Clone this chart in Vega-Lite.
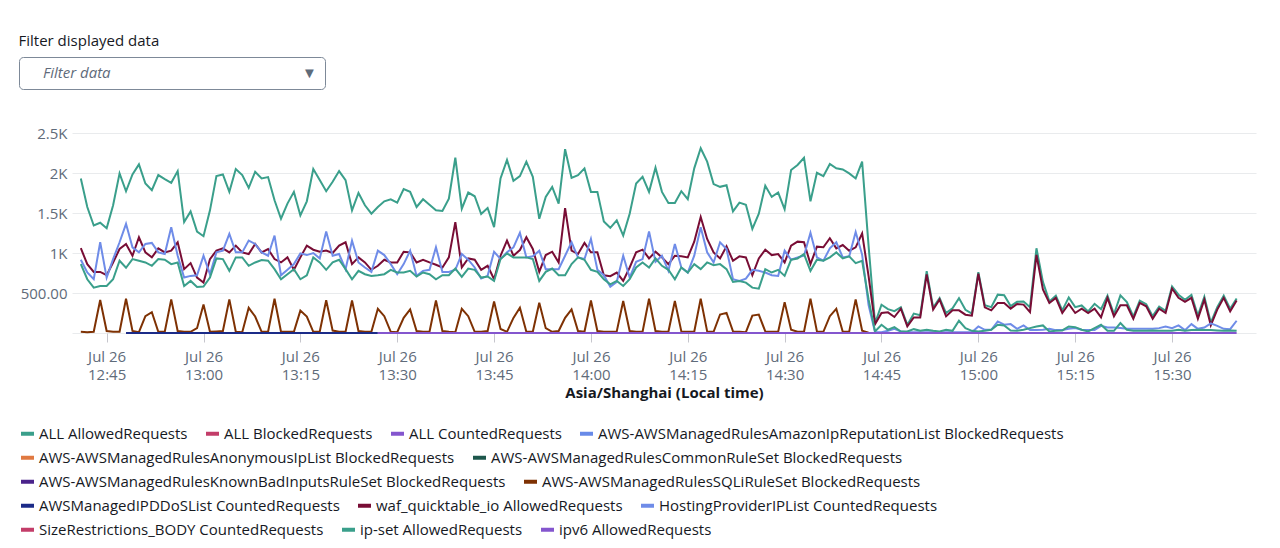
{
"$schema": "https://vega.github.io/schema/vega-lite/v6.json",
"background": "white",
"autosize": "none",
"padding": {"left": 72, "top": 133, "right": 24, "bottom": 215},
"width": 1184,
"height": 200,
"title": {"text": "Filter displayed data", "anchor": "start", "fontSize": 15, "fontWeight": "normal", "color": "#16191f", "offset": 8},
"config": {
  "font": "Open Sans",
  "view": {"stroke": null},
  "legend": {"direction": "horizontal", "symbolType": "stroke", "symbolStrokeWidth": 4, "symbolSize": 169, "labelFont": "Open Sans", "labelFontSize": 15, "labelColor": "#16191f", "labelLimit": 900, "columnPadding": 10, "labelOffset": 3}
},
"data": {"values": [
{"t":"2024-07-26T12:41Z","a":1932,"w":1060,"h":916,"i":861,"s":15},
{"t":"2024-07-26T12:42Z","a":1575,"w":860,"h":756,"i":672,"s":10},
{"t":"2024-07-26T12:43Z","a":1344,"w":764,"h":672,"i":567,"s":15},
{"t":"2024-07-26T12:44Z","a":1378,"w":764,"h":1134,"i":588,"s":412},
{"t":"2024-07-26T12:45Z","a":1310,"w":722,"h":693,"i":588,"s":25},
{"t":"2024-07-26T12:46Z","a":1596,"w":882,"h":924,"i":672,"s":15},
{"t":"2024-07-26T12:47Z","a":1995,"w":1050,"h":1134,"i":903,"s":15},
{"t":"2024-07-26T12:48Z","a":1772,"w":1113,"h":1365,"i":815,"s":428,"d":0},
{"t":"2024-07-26T12:49Z","a":1982,"w":966,"h":1071,"i":924,"s":25,"d":0},
{"t":"2024-07-26T12:50Z","a":2108,"w":1197,"h":1008,"i":903,"s":10,"d":0},
{"t":"2024-07-26T12:51Z","a":1869,"w":1008,"h":1113,"i":882,"s":210,"d":0},
{"t":"2024-07-26T12:52Z","a":1785,"w":945,"h":1126,"i":840,"s":260,"d":0},
{"t":"2024-07-26T12:53Z","a":1974,"w":1058,"h":1008,"i":924,"s":15,"d":0},
{"t":"2024-07-26T12:54Z","a":1924,"w":1008,"h":987,"i":916,"s":15,"d":0},
{"t":"2024-07-26T12:55Z","a":1877,"w":1029,"h":1323,"i":861,"s":420,"d":0},
{"t":"2024-07-26T12:56Z","a":2024,"w":1134,"h":966,"i":882,"s":25,"d":0},
{"t":"2024-07-26T12:57Z","a":1386,"w":798,"h":693,"i":588,"s":15,"d":0},
{"t":"2024-07-26T12:58Z","a":1520,"w":874,"h":714,"i":651,"s":15,"d":0},
{"t":"2024-07-26T12:59Z","a":1268,"w":693,"h":722,"i":575,"s":60,"d":0},
{"t":"2024-07-26T13:00Z","a":1210,"w":630,"h":966,"i":580,"s":357,"d":0},
{"t":"2024-07-26T13:01Z","a":1533,"w":924,"h":735,"i":693,"s":15,"d":0},
{"t":"2024-07-26T13:02Z","a":1961,"w":1029,"h":1008,"i":932,"s":20,"d":0},
{"t":"2024-07-26T13:03Z","a":1982,"w":1058,"h":1029,"i":924,"s":25,"d":0},
{"t":"2024-07-26T13:04Z","a":1764,"w":1008,"h":1239,"i":777,"s":420,"d":0},
{"t":"2024-07-26T13:05Z","a":2050,"w":1092,"h":1008,"i":945,"s":15,"d":0},
{"t":"2024-07-26T13:06Z","a":1974,"w":1008,"h":1008,"i":945,"s":10,"d":0},
{"t":"2024-07-26T13:07Z","a":1814,"w":987,"h":1155,"i":840,"s":315,"d":0},
{"t":"2024-07-26T13:08Z","a":2016,"w":1113,"h":1113,"i":882,"s":206,"d":0},
{"t":"2024-07-26T13:09Z","a":1932,"w":1008,"h":1008,"i":911,"s":15,"d":0},
{"t":"2024-07-26T13:10Z","a":1949,"w":1050,"h":966,"i":903,"s":15,"d":0},
{"t":"2024-07-26T13:11Z","a":1659,"w":924,"h":1218,"i":798,"s":428,"d":0},
{"t":"2024-07-26T13:12Z","a":1428,"w":882,"h":722,"i":672,"s":15,"d":0},
{"t":"2024-07-26T13:13Z","a":1617,"w":945,"h":790,"i":735,"s":15,"d":0},
{"t":"2024-07-26T13:14Z","a":1764,"w":790,"h":861,"i":798,"s":15,"d":0},
{"t":"2024-07-26T13:15Z","a":1470,"w":945,"h":995,"i":672,"s":280,"d":0},
{"t":"2024-07-26T13:16Z","a":1646,"w":1092,"h":974,"i":722,"s":206,"d":0},
{"t":"2024-07-26T13:17Z","a":2050,"w":1041,"h":1000,"i":945,"s":15,"d":0},
{"t":"2024-07-26T13:18Z","a":1911,"w":1016,"h":932,"i":882,"s":15,"d":0},
{"t":"2024-07-26T13:19Z","a":1772,"w":1030,"h":1270,"i":790,"s":410,"d":0},
{"t":"2024-07-26T13:20Z","a":1890,"w":1000,"h":966,"i":882,"s":30,"d":0},
{"t":"2024-07-26T13:21Z","a":2024,"w":1092,"h":987,"i":916,"s":15,"d":0},
{"t":"2024-07-26T13:22Z","a":1911,"w":1134,"h":798,"i":798,"s":15,"d":0},
{"t":"2024-07-26T13:23Z","a":1533,"w":861,"h":1155,"i":672,"s":407,"d":0},
{"t":"2024-07-26T13:24Z","a":1751,"w":945,"h":882,"i":777,"s":25,"d":0},
{"t":"2024-07-26T13:25Z","a":1596,"w":882,"h":819,"i":735,"s":15,"d":0},
{"t":"2024-07-26T13:26Z","a":1491,"w":790,"h":764,"i":714,"s":15,"d":0},
{"t":"2024-07-26T13:27Z","a":1575,"w":840,"h":1029,"i":722,"s":302,"d":0,"v":0},
{"t":"2024-07-26T13:28Z","a":1646,"w":916,"h":974,"i":735,"s":210,"v":0},
{"t":"2024-07-26T13:29Z","a":1672,"w":882,"h":861,"i":790,"s":15,"v":0},
{"t":"2024-07-26T13:30Z","a":1630,"w":882,"h":735,"i":756,"s":10,"v":0},
{"t":"2024-07-26T13:31Z","a":1798,"w":1016,"h":861,"i":756,"s":189,"v":0},
{"t":"2024-07-26T13:32Z","a":1764,"w":1008,"h":1029,"i":777,"s":294,"v":0},
{"t":"2024-07-26T13:33Z","a":1575,"w":882,"h":714,"i":706,"s":25,"v":0},
{"t":"2024-07-26T13:34Z","a":1672,"w":916,"h":777,"i":756,"s":15,"v":0},
{"t":"2024-07-26T13:35Z","a":1604,"w":882,"h":790,"i":735,"s":15,"v":0},
{"t":"2024-07-26T13:36Z","a":1533,"w":853,"h":1071,"i":672,"s":407,"v":0},
{"t":"2024-07-26T13:37Z","a":1525,"w":819,"h":764,"i":722,"s":25,"v":0},
{"t":"2024-07-26T13:38Z","a":1680,"w":945,"h":764,"i":722,"s":15,"v":0},
{"t":"2024-07-26T13:39Z","a":2191,"w":1386,"h":790,"i":806,"s":10,"v":0},
{"t":"2024-07-26T13:40Z","a":1554,"w":819,"h":987,"i":701,"s":302,"v":0},
{"t":"2024-07-26T13:41Z","a":1756,"w":932,"h":916,"i":806,"s":210,"v":0},
{"t":"2024-07-26T13:42Z","a":1709,"w":916,"h":819,"i":790,"s":15,"v":0},
{"t":"2024-07-26T13:43Z","a":1487,"w":790,"h":680,"i":693,"s":15,"v":0},
{"t":"2024-07-26T13:44Z","a":1562,"w":840,"h":714,"i":706,"s":25,"v":0},
{"t":"2024-07-26T13:45Z","a":1323,"w":672,"h":1016,"i":651,"s":395,"v":0},
{"t":"2024-07-26T13:46Z","a":1932,"w":966,"h":924,"i":924,"s":50,"v":0},
{"t":"2024-07-26T13:47Z","a":2163,"w":1155,"h":1008,"i":995,"s":15,"v":0},
{"t":"2024-07-26T13:48Z","a":1902,"w":966,"h":1071,"i":945,"s":189,"v":0},
{"t":"2024-07-26T13:49Z","a":1961,"w":1037,"h":1252,"i":945,"s":315,"v":0},
{"t":"2024-07-26T13:50Z","a":2142,"w":1197,"h":945,"i":945,"s":15,"v":0},
{"t":"2024-07-26T13:51Z","a":1953,"w":1050,"h":958,"i":924,"s":15,"v":0},
{"t":"2024-07-26T13:52Z","a":1428,"w":764,"h":1029,"i":651,"s":378,"v":0},
{"t":"2024-07-26T13:53Z","a":1701,"w":974,"h":798,"i":764,"s":60,"v":0},
{"t":"2024-07-26T13:54Z","a":1827,"w":1016,"h":798,"i":806,"s":15,"v":0},
{"t":"2024-07-26T13:55Z","a":1617,"w":882,"h":798,"i":722,"s":25,"v":0},
{"t":"2024-07-26T13:56Z","a":2297,"w":1562,"h":966,"i":722,"s":189,"v":0},
{"t":"2024-07-26T13:57Z","a":1940,"w":1029,"h":1134,"i":861,"s":294,"v":0},
{"t":"2024-07-26T13:58Z","a":1974,"w":987,"h":945,"i":945,"s":25,"v":0},
{"t":"2024-07-26T13:59Z","a":2058,"w":1126,"h":924,"i":916,"s":15,"v":0},
{"t":"2024-07-26T14:00Z","a":1764,"w":1008,"h":1176,"i":790,"s":407,"v":0},
{"t":"2024-07-26T14:01Z","a":1764,"w":1008,"h":790,"i":764,"s":25,"v":0},
{"t":"2024-07-26T14:02Z","a":1394,"w":722,"h":722,"i":672,"s":15,"v":0},
{"t":"2024-07-26T14:03Z","a":1315,"w":710,"h":578,"i":609,"s":15,"v":0},
{"t":"2024-07-26T14:04Z","a":1407,"w":756,"h":640,"i":651,"s":20,"v":0},
{"t":"2024-07-26T14:05Z","a":1218,"w":651,"h":966,"i":588,"s":399,"v":0},
{"t":"2024-07-26T14:06Z","a":1491,"w":819,"h":693,"i":672,"s":25,"v":0},
{"t":"2024-07-26T14:07Z","a":1869,"w":1008,"h":890,"i":819,"s":15,"v":0},
{"t":"2024-07-26T14:08Z","a":1953,"w":1042,"h":924,"i":882,"s":15,"v":0},
{"t":"2024-07-26T14:09Z","a":1764,"w":932,"h":1268,"i":819,"s":428,"v":0},
{"t":"2024-07-26T14:10Z","a":2066,"w":1016,"h":890,"i":932,"s":25,"v":0},
{"t":"2024-07-26T14:11Z","a":1764,"w":945,"h":966,"i":840,"s":15,"v":0},
{"t":"2024-07-26T14:12Z","a":1625,"w":861,"h":777,"i":790,"s":15,"v":0},
{"t":"2024-07-26T14:13Z","a":1625,"w":966,"h":1113,"i":672,"s":399,"v":0},
{"t":"2024-07-26T14:14Z","a":1772,"w":958,"h":819,"i":819,"s":20,"v":0},
{"t":"2024-07-26T14:15Z","a":1672,"w":945,"h":756,"i":756,"s":15,"v":0},
{"t":"2024-07-26T14:16Z","a":2058,"w":1142,"h":966,"i":861,"s":15,"v":0},
{"t":"2024-07-26T14:17Z","a":2310,"w":1449,"h":1323,"i":798,"s":428,"v":0},
{"t":"2024-07-26T14:18Z","a":2142,"w":1176,"h":1008,"i":882,"s":20,"v":0},
{"t":"2024-07-26T14:19Z","a":1861,"w":1008,"h":882,"i":848,"s":15,"v":0},
{"t":"2024-07-26T14:20Z","a":1827,"w":932,"h":1134,"i":861,"s":231,"v":0},
{"t":"2024-07-26T14:21Z","a":1848,"w":1084,"h":1050,"i":798,"s":252,"v":0},
{"t":"2024-07-26T14:22Z","a":1520,"w":903,"h":672,"i":638,"s":20,"v":0},
{"t":"2024-07-26T14:23Z","a":1630,"w":958,"h":651,"i":651,"s":15,"v":0},
{"t":"2024-07-26T14:24Z","a":1604,"w":945,"h":680,"i":630,"s":10,"v":0},
{"t":"2024-07-26T14:25Z","a":1302,"w":722,"h":790,"i":567,"s":218,"v":0},
{"t":"2024-07-26T14:26Z","a":1491,"w":932,"h":777,"i":554,"s":231,"v":0},
{"t":"2024-07-26T14:27Z","a":1840,"w":1042,"h":756,"i":798,"s":20,"v":0},
{"t":"2024-07-26T14:28Z","a":1701,"w":974,"h":722,"i":756,"s":15,"v":0},
{"t":"2024-07-26T14:29Z","a":1756,"w":987,"h":714,"i":790,"s":15,"v":0},
{"t":"2024-07-26T14:30Z","a":1546,"w":882,"h":1029,"i":714,"s":386,"v":0},
{"t":"2024-07-26T14:31Z","a":2037,"w":1092,"h":916,"i":916,"s":40,"v":0},
{"t":"2024-07-26T14:32Z","a":2100,"w":1142,"h":945,"i":932,"s":15,"v":0},
{"t":"2024-07-26T14:33Z","a":2191,"w":1134,"h":966,"i":987,"s":15,"v":0},
{"t":"2024-07-26T14:34Z","a":1646,"w":861,"h":1252,"i":777,"s":428,"v":0},
{"t":"2024-07-26T14:35Z","a":2003,"w":1079,"h":945,"i":916,"s":20,"v":0},
{"t":"2024-07-26T14:36Z","a":1961,"w":1071,"h":903,"i":903,"s":15,"v":0},
{"t":"2024-07-26T14:37Z","a":2113,"w":1184,"h":1058,"i":945,"s":210,"v":0},
{"t":"2024-07-26T14:38Z","a":2058,"w":1058,"h":1134,"i":1008,"s":302,"v":0},
{"t":"2024-07-26T14:39Z","a":2045,"w":1100,"h":945,"i":932,"s":15,"v":0},
{"t":"2024-07-26T14:40Z","a":1995,"w":1029,"h":958,"i":958,"s":15,"v":0},
{"t":"2024-07-26T14:41Z","a":1932,"w":1071,"h":1263,"i":874,"s":420,"v":0},
{"t":"2024-07-26T14:42Z","a":2142,"w":1245,"h":980,"i":903,"s":30,"v":0},
{"t":"2024-07-26T14:43Z","a":1090,"w":712,"h":350,"i":420,"s":5,"v":0},
{"t":"2024-07-26T14:44Z","a":120,"w":110,"h":10,"i":20,"v":0},
{"t":"2024-07-26T14:45Z","a":353,"w":250,"h":10,"i":103,"v":0},
{"t":"2024-07-26T14:46Z","a":298,"w":258,"h":27,"i":40,"v":0},
{"t":"2024-07-26T14:47Z","a":273,"w":200,"h":52,"i":73,"v":0},
{"t":"2024-07-26T14:48Z","a":323,"w":304,"h":19,"i":19,"v":0},
{"t":"2024-07-26T14:49Z","a":101,"w":82,"h":10,"i":19,"v":0},
{"t":"2024-07-26T14:50Z","a":243,"w":195,"h":10,"i":48,"v":0},
{"t":"2024-07-26T14:51Z","a":222,"w":195,"h":10,"i":27,"v":0},
{"t":"2024-07-26T14:52Z","a":773,"w":733,"h":10,"i":40,"v":0},
{"t":"2024-07-26T14:53Z","a":319,"w":292,"h":10,"i":27,"v":0},
{"t":"2024-07-26T14:54Z","a":437,"w":418,"h":10,"i":19,"v":0},
{"t":"2024-07-26T14:55Z","a":248,"w":208,"h":10,"i":40,"v":0},
{"t":"2024-07-26T14:56Z","a":310,"w":283,"h":10,"i":27,"v":0},
{"t":"2024-07-26T14:57Z","a":436,"w":283,"h":10,"i":153,"v":0},
{"t":"2024-07-26T14:58Z","a":290,"w":229,"h":10,"i":61,"v":0},
{"t":"2024-07-26T14:59Z","a":243,"w":216,"h":10,"i":27,"v":0},
{"t":"2024-07-26T15:00Z","a":760,"w":741,"h":82,"i":19,"v":0},
{"t":"2024-07-26T15:01Z","a":348,"w":321,"h":40,"i":27,"v":0},
{"t":"2024-07-26T15:02Z","a":323,"w":283,"h":40,"i":40,"v":0},
{"t":"2024-07-26T15:03Z","a":479,"w":376,"h":145,"i":103,"v":0},
{"t":"2024-07-26T15:04Z","a":471,"w":376,"h":103,"i":95,"v":0},
{"t":"2024-07-26T15:05Z","a":336,"w":304,"h":111,"i":32,"v":0},
{"t":"2024-07-26T15:06Z","a":390,"w":363,"h":52,"i":27,"v":0},
{"t":"2024-07-26T15:07Z","a":395,"w":355,"h":95,"i":40,"v":0},
{"t":"2024-07-26T15:08Z","a":323,"w":262,"h":36,"i":61,"v":0},
{"t":"2024-07-26T15:09Z","a":1059,"w":977,"h":36,"i":82,"v":0},
{"t":"2024-07-26T15:10Z","a":639,"w":544,"h":40,"i":95,"v":0},
{"t":"2024-07-26T15:11Z","a":395,"w":376,"h":52,"i":19,"v":0},
{"t":"2024-07-26T15:12Z","a":466,"w":439,"h":36,"i":27,"v":0},
{"t":"2024-07-26T15:13Z","a":282,"w":250,"h":36,"i":32,"v":0},
{"t":"2024-07-26T15:14Z","a":445,"w":363,"h":52,"i":82,"v":0},
{"t":"2024-07-26T15:15Z","a":323,"w":250,"h":61,"i":73,"v":0},
{"t":"2024-07-26T15:16Z","a":344,"w":304,"h":40,"i":40,"v":0},
{"t":"2024-07-26T15:17Z","a":269,"w":250,"h":36,"i":19,"v":0},
{"t":"2024-07-26T15:18Z","a":365,"w":304,"h":36,"i":61,"v":0},
{"t":"2024-07-26T15:19Z","a":298,"w":195,"h":90,"i":103,"v":0},
{"t":"2024-07-26T15:20Z","a":466,"w":439,"h":69,"i":27,"v":0},
{"t":"2024-07-26T15:21Z","a":235,"w":208,"h":69,"i":27,"v":0},
{"t":"2024-07-26T15:22Z","a":470,"w":346,"h":61,"i":124,"v":0},
{"t":"2024-07-26T15:23Z","a":386,"w":346,"h":52,"i":40,"v":0},
{"t":"2024-07-26T15:24Z","a":206,"w":179,"h":52,"i":27,"v":0},
{"t":"2024-07-26T15:25Z","a":403,"w":376,"h":52,"i":27,"v":0},
{"t":"2024-07-26T15:26Z","a":361,"w":334,"h":52,"i":27,"v":0},
{"t":"2024-07-26T15:27Z","a":211,"w":179,"h":52,"i":32,"v":0},
{"t":"2024-07-26T15:28Z","a":331,"w":304,"h":61,"i":27,"v":0},
{"t":"2024-07-26T15:29Z","a":277,"w":250,"h":82,"i":27,"v":0},
{"t":"2024-07-26T15:30Z","a":583,"w":556,"h":61,"i":27,"v":0},
{"t":"2024-07-26T15:31Z","a":479,"w":439,"h":95,"i":40,"v":0},
{"t":"2024-07-26T15:32Z","a":416,"w":389,"h":36,"i":27,"v":0},
{"t":"2024-07-26T15:33Z","a":475,"w":439,"h":111,"i":36,"v":0},
{"t":"2024-07-26T15:34Z","a":219,"w":179,"h":52,"i":40,"v":0},
{"t":"2024-07-26T15:35Z","a":454,"w":418,"h":69,"i":36,"v":0},
{"t":"2024-07-26T15:36Z","a":131,"w":95,"h":120,"i":36,"v":0},
{"t":"2024-07-26T15:37Z","a":324,"w":292,"h":90,"i":32,"v":0},
{"t":"2024-07-26T15:38Z","a":466,"w":439,"h":52,"i":27,"v":0},
{"t":"2024-07-26T15:39Z","a":303,"w":271,"h":48,"i":32,"v":0},
{"t":"2024-07-26T15:40Z","a":432,"w":405,"h":153,"i":27,"v":0}
]},
"transform": [
  {"fold": ["a", "s", "d", "w", "h", "i", "v"], "as": ["k", "val"]},
  {"filter": "isValid(datum.val)"}
],
"encoding": {
  "y": {"field": "val", "type": "quantitative",
    "scale": {"domain": [0, 2500], "nice": false},
    "axis": {"values": [0, 500, 1000, 1500, 2000, 2500], "labelExpr": "datum.value == 0 ? '' : datum.value == 500 ? '500.00' : (datum.value / 1000) + 'K'", "labelFontSize": 15, "labelColor": "#5f6b7a", "labelPadding": 5, "ticks": false, "domain": false, "gridColor": "#e9ebed", "gridWidth": 1, "title": null}}
},
"layer": [
  {"transform": [{"filter": {"field": "k", "oneOf": ["a"]}}], "mark": {"type": "line", "strokeWidth": 2},
    "encoding": {
      "x": {"field": "t", "type": "temporal", "scale": {"type": "utc", "domain": [1721997578000, 1722008580000]},
        "axis": {"orient": "bottom", "values": [1721997900000, 1721998800000, 1721999700000, 1722000600000, 1722001500000, 1722002400000, 1722003300000, 1722004200000, 1722005100000, 1722006000000, 1722006900000, 1722007800000], "labelExpr": "'Jul 26'", "labelFontSize": 15, "labelColor": "#5f6b7a", "labelPadding": 7, "tickSize": 9, "tickColor": "#c6c6cd", "domain": false, "grid": false, "title": null}},
      "color": {"field": "k", "type": "nominal", "scale": {"domain": ["a", "ab", "ac", "ar"], "range": ["#3a9f8b", "#c33d69", "#8456ce", "#688ae8"]},
      "legend": {"title": null, "orient": "none", "legendX": -53, "legendY": 292, "labelExpr": "datum.label == 'a' ? 'ALL AllowedRequests' : datum.label == 'ab' ? 'ALL BlockedRequests' : datum.label == 'ac' ? 'ALL CountedRequests' : 'AWS-AWSManagedRulesAmazonIpReputationList BlockedRequests'"}}}},
  {"transform": [{"filter": {"field": "k", "oneOf": ["an", "cr"]}}], "mark": {"type": "line", "strokeWidth": 2},
    "encoding": {
      "x": {"field": "t", "type": "temporal", "scale": {"type": "utc", "domain": [1721997578000, 1722008580000]},
        "axis": {"orient": "bottom", "values": [1721997900000, 1721998800000, 1721999700000, 1722000600000, 1722001500000, 1722002400000, 1722003300000, 1722004200000, 1722005100000, 1722006000000, 1722006900000, 1722007800000], "labelExpr": "utcFormat(datum.value, '%H:%M')", "labelFontSize": 15, "labelColor": "#5f6b7a", "labelPadding": 25, "tickSize": 9, "tickOpacity": 0, "domain": false, "grid": false, "title": "Asia/Shanghai (Local time)", "titleFontSize": 15, "titleFontWeight": "bold", "titleColor": "#16191f", "titlePadding": 3}},
      "color": {"field": "k", "type": "nominal", "scale": {"domain": ["an", "cr"], "range": ["#e07941", "#1d574c"]},
      "legend": {"title": null, "orient": "none", "legendX": -53, "legendY": 316, "labelExpr": "datum.label == 'an' ? 'AWS-AWSManagedRulesAnonymousIpList BlockedRequests' : 'AWS-AWSManagedRulesCommonRuleSet BlockedRequests'"}}}},
  {"transform": [{"filter": {"field": "k", "oneOf": ["kb", "s"]}}], "mark": {"type": "line", "strokeWidth": 2},
    "encoding": {
      "x": {"field": "t", "type": "temporal", "scale": {"type": "utc", "domain": [1721997578000, 1722008580000]}, "axis": null},
      "color": {"field": "k", "type": "nominal", "scale": {"domain": ["kb", "s"], "range": ["#4a238b", "#7e3103"]},
      "legend": {"title": null, "orient": "none", "legendX": -53, "legendY": 340, "labelExpr": "datum.label == 'kb' ? 'AWS-AWSManagedRulesKnownBadInputsRuleSet BlockedRequests' : 'AWS-AWSManagedRulesSQLiRuleSet BlockedRequests'"}}}},
  {"transform": [{"filter": {"field": "k", "oneOf": ["d", "w", "h"]}}], "mark": {"type": "line", "strokeWidth": 2},
    "encoding": {
      "x": {"field": "t", "type": "temporal", "scale": {"type": "utc", "domain": [1721997578000, 1722008580000]}, "axis": null},
      "color": {"field": "k", "type": "nominal", "scale": {"domain": ["d", "w", "h"], "range": ["#1b2b88", "#780d35", "#6f8ce8"]},
      "legend": {"title": null, "orient": "none", "legendX": -53, "legendY": 364, "labelExpr": "datum.label == 'd' ? 'AWSManagedIPDDoSList CountedRequests' : datum.label == 'w' ? 'waf_quicktable_io AllowedRequests' : 'HostingProviderIPList CountedRequests'"}}}},
  {"transform": [{"filter": {"field": "k", "oneOf": ["sz", "i", "v"]}}], "mark": {"type": "line", "strokeWidth": 2},
    "encoding": {
      "x": {"field": "t", "type": "temporal", "scale": {"type": "utc", "domain": [1721997578000, 1722008580000]}, "axis": null},
      "color": {"field": "k", "type": "nominal", "scale": {"domain": ["sz", "i", "v"], "range": ["#c33d69", "#3a9f8b", "#8456ce"]},
      "legend": {"title": null, "orient": "none", "legendX": -53, "legendY": 388, "labelExpr": "datum.label == 'sz' ? 'SizeRestrictions_BODY CountedRequests' : datum.label == 'i' ? 'ip-set AllowedRequests' : 'ipv6 AllowedRequests'"}}}},
  {"transform": [{"filter": {"field": "k", "oneOf": ["filter"]}}], "mark": {"type": "line", "strokeWidth": 2},
    "encoding": {
      "x": {"field": "t", "type": "temporal", "scale": {"type": "utc", "domain": [1721997578000, 1722008580000]}, "axis": null},
      "strokeDash": {"field": "k", "type": "nominal", "scale": {"domain": ["Filter data", "▼"], "range": [[1, 0], [1, 0]]},
      "legend": {"title": null, "orient": "none", "legendX": -53, "legendY": -76, "direction": "horizontal", "strokeColor": "#7d8998", "fillColor": "white", "cornerRadius": 4, "padding": 8, "symbolSize": 1, "symbolOpacity": 0, "symbolStrokeWidth": 0, "labelOffset": 1, "columnPadding": 175, "labelFontStyle": "italic", "labelColor": "#5f6b7a", "labelFontSize": 15}}}}
],
"resolve": {"scale": {"color": "independent"}, "legend": {"color": "independent"}, "axis": {"x": "independent"}}
}
